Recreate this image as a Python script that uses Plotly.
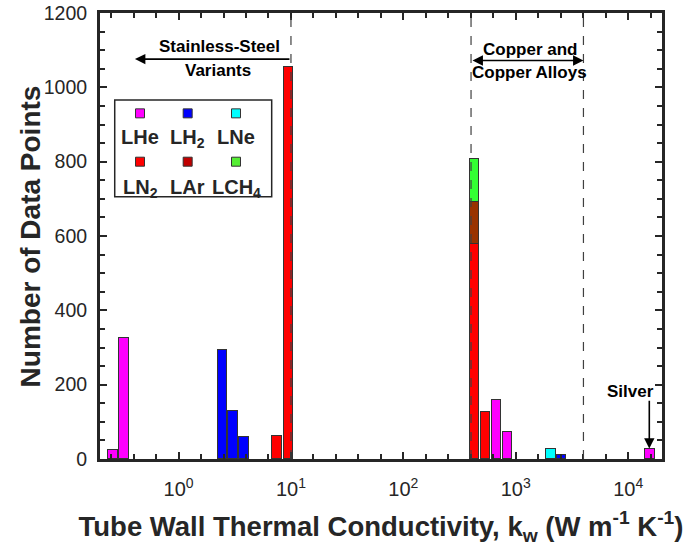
import numpy as np
import plotly.graph_objects as go

# ---- data (bin centres of tube-wall thermal conductivity, W m^-1 K^-1) ----
lhe_k = [0.261, 0.327, 670, 840, 15600]
lhe_n = [25, 325, 158, 72, 28]
lh2_k = [2.45, 3.05, 3.82, 2565]
lh2_n = [292, 129, 58, 12]
lne_k = [2055]
lne_n = [28]
ln2_k = [7.5, 9.47, 430, 535]
ln2_n = [61, 1055, 578, 127]
lar_k = [430]
lar_n = [113]
lch4_k = [430]
lch4_n = [115]

region_bounds = [10, 400, 4000]          # dashed separators
tick_decades = [0, 1, 2, 3, 4]
tick_labels = ["10<sup>%d</sup>" % d for d in tick_decades]

series = [
    ("LN2", ln2_k, ln2_n, "#FF0000"),
    ("LAr", lar_k, lar_n, "#993300"),
    ("LCH4", lch4_k, lch4_n, "#33FF33"),
    ("LHe", lhe_k, lhe_n, "#FF00FF"),
    ("LH2", lh2_k, lh2_n, "#0000FF"),
    ("LNe", lne_k, lne_n, "#00FFFF"),
]

FONT = "Liberation Sans, Arial, sans-serif"
DARK = "#262626"

fig = go.Figure()
for name, k, n, col in series:
    fig.add_trace(go.Bar(
        x=np.log10(k), y=n, name=name, width=0.083,
        marker=dict(color=col, line=dict(color="#333333", width=1)),
        showlegend=False,
    ))

# dashed separators
for b in region_bounds:
    fig.add_shape(type="line", xref="x", yref="paper",
                  x0=np.log10(b), x1=np.log10(b), y0=0, y1=1,
                  line=dict(color="#404040", width=1.2, dash="dash"),
                  layer="above")

ann = []
def txt(x, y, s, size=17, bold=True, xref="x", yref="y", yanchor="middle",
        color="#000000", angle=0):
    ann.append(dict(x=x, y=y, xref=xref, yref=yref, text=s, showarrow=False,
                    font=dict(family=FONT, size=size, color=color,
                              weight="bold" if bold else "normal"),
                    xanchor="center", yanchor=yanchor, textangle=angle))

txt(0.36, 1111, "Stainless-Steel")
txt(0.355, 1044, "Variants")
txt(3.127, 1103, "Copper and")
txt(3.122, 1041, "Copper Alloys")
txt(4.017, 181, "Silver")

# y-axis title
txt(-0.1246, 0.499, "Number of Data Points", size=28, xref="paper", yref="paper",
    color=DARK, angle=-90)

# arrows
ann.append(dict(x=-0.388, y=1076, ax=1.0, ay=1076, xref="x", yref="y",
                axref="x", ayref="y", text="", showarrow=True,
                arrowhead=2, arrowsize=1.3, arrowwidth=1.6, arrowcolor="#000"))
ann.append(dict(x=np.log10(4000), y=1072, ax=np.log10(400), ay=1072,
                xref="x", yref="y", axref="x", ayref="y", text="",
                showarrow=True, arrowhead=2, startarrowhead=2,
                arrowside="end+start", arrowsize=1.3, startarrowsize=1.3,
                arrowwidth=1.6, arrowcolor="#000"))
ann.append(dict(x=4.188, y=28, ax=4.188, ay=161, xref="x", yref="y",
                axref="x", ayref="y", text="", showarrow=True,
                arrowhead=2, arrowsize=1.3, arrowwidth=1.6, arrowcolor="#000"))

# custom legend (markers above labels, 2 rows x 3 columns)
fig.add_shape(type="rect", xref="paper", yref="paper",
              x0=0.0262, x1=0.3055, y0=0.588, y1=0.805,
              line=dict(color=DARK, width=1.5), fillcolor="white", layer="above")
leg_cols = [0.0712, 0.156, 0.242]
leg_rows = [(0.775, 0.752), (0.6666, 0.639)]
leg_items = [
    ("LHe", "#FF00FF"), ("LH<sub>2</sub>", "#0000FF"), ("LNe", "#00FFFF"),
    ("LN<sub>2</sub>", "#FF0000"), ("LAr", "#C00000"), ("LCH<sub>4</sub>", "#55EE33"),
]
for i, (lab, col) in enumerate(leg_items):
    cx = leg_cols[i % 3]
    my, ty = leg_rows[i // 3]
    fig.add_shape(type="rect", xref="paper", yref="paper",
                  x0=cx - 0.008, x1=cx + 0.008, y0=my - 0.0101, y1=my + 0.0101,
                  line=dict(color="#333333", width=1), fillcolor=col, layer="above")
    txt(cx, ty, lab, size=20, bold=True, xref="paper", yref="paper",
        yanchor="top", color=DARK)

fig.update_layout(
    width=697, height=547,
    margin=dict(l=100, r=35, t=13, b=88, autoexpand=False),
    paper_bgcolor="white", plot_bgcolor="white",
    barmode="stack", bargap=0,
    font=dict(family=FONT, size=18, color=DARK),
    annotations=ann,
    xaxis=dict(
        automargin=False,
        range=[np.log10(0.2), np.log10(2e4)], tickmode="array",
        tickvals=tick_decades, ticktext=tick_labels,
        showline=True, linewidth=3, linecolor=DARK, mirror="ticks",
        ticks="inside", ticklen=7, tickwidth=2, tickcolor=DARK,
        showgrid=False, zeroline=False,
        ticklabelstandoff=10,
        tickfont=dict(family=FONT, size=20, color=DARK),
        minor=dict(ticks="inside", dtick=0.2, tick0=0, ticklen=5,
                   tickwidth=2, tickcolor=DARK, showgrid=False),
        title=dict(text="Tube Wall Thermal Conductivity, k<sub>w</sub> (W m<sup>-1</sup> K<sup>-1</sup>)",
                   font=dict(family=FONT, size=27.5, color=DARK, weight="bold"),
                   standoff=18),
    ),
    yaxis=dict(
        automargin=False,
        range=[0, 1200], dtick=200, tick0=0,
        showline=True, linewidth=3, linecolor=DARK, mirror="ticks",
        ticks="inside", ticklen=7, tickwidth=2, tickcolor=DARK,
        showgrid=False, zeroline=False,
        ticklabelstandoff=6,
        tickfont=dict(family=FONT, size=19.5, color=DARK),
        minor=dict(ticks="inside", dtick=50, ticklen=5, tickwidth=2,
                   tickcolor=DARK, showgrid=False),
    ),
)

fig.write_html("out.html")
